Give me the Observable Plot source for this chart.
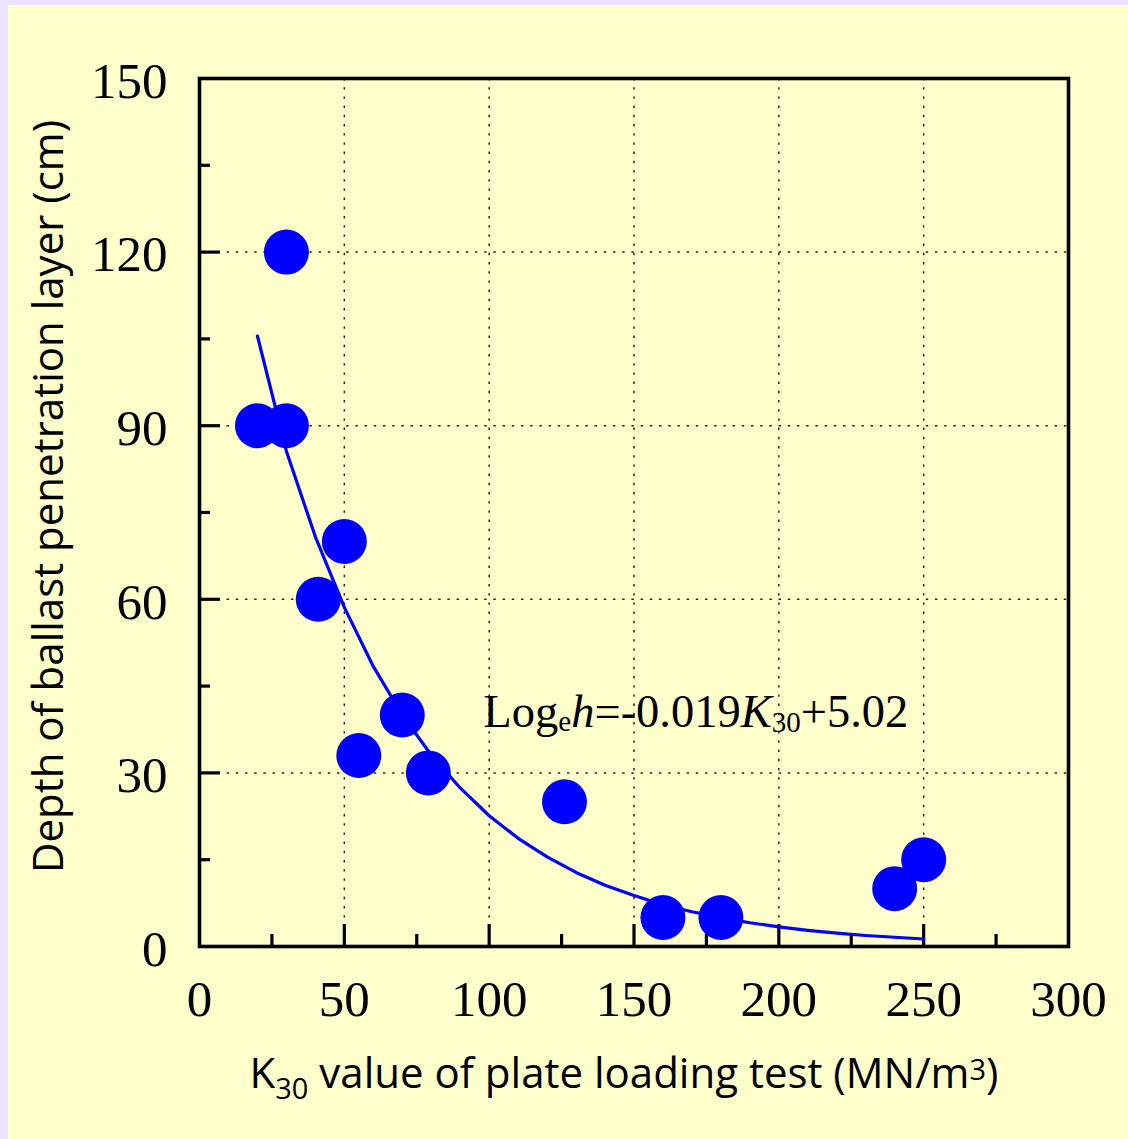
<!DOCTYPE html>
<html>
<head>
<meta charset="utf-8">
<script src="https://cdn.jsdelivr.net/npm/d3@7"></script>
<script src="https://cdn.jsdelivr.net/npm/@observablehq/plot@0.6"></script>
<style>
  html, body { margin: 0; padding: 0; }
  body { width: 1128px; height: 1139px; background: #ECE2FF; position: relative; overflow: hidden; }
  #chart svg { position: absolute; left: 8px; top: 5px; }
</style>
</head>
<body>
<div id="chart"></div>
<script>
// ---- data ----
const k30Values   = [20, 30, 30, 41, 50, 55, 70, 79, 126, 160, 180, 240, 250];
const depthValues = [90, 90, 120, 60, 70, 33, 40, 30, 25, 5, 5, 10, 15];

// fitted curve (Log_e h = -0.019 K30 + 5.02)
const fitK     = [20, 30, 40, 50, 60, 70, 80, 90, 100, 110, 120, 130, 140, 150, 160, 170, 180, 190, 200, 210, 220, 230, 240, 250];
const fitDepth = [105.5, 85.6, 70.8, 58.6, 48.4, 40.0, 33.1, 27.4, 22.6, 18.7, 15.5, 12.8, 10.6, 8.8, 7.2, 6.0, 5.0, 4.1, 3.4, 2.8, 2.3, 1.9, 1.6, 1.3];

const xTickLabels = [0, 50, 100, 150, 200, 250, 300];
const yTickLabels = [0, 30, 60, 90, 120, 150];
const xMajorInner = [50, 100, 150, 200, 250];
const xMinorInner = [25, 75, 125, 175, 225, 275];
const yMajorInner = [30, 60, 90, 120];
const yMinorInner = [15, 45, 75, 105, 135];
const xGridLines  = [50, 100, 150, 200, 250];
const yGridLines  = [30, 60, 90, 120];

const xTitle = "K30 value of plate loading test (MN/m3)";
const yTitle = "Depth of ballast penetration layer (cm)";
const equation = "Logeh=-0.019K30+5.02";

// ---- build tables ----
const points = k30Values.map((k, i) => ({k, h: depthValues[i]}));
const fit = fitK.map((k, i) => ({k, h: fitDepth[i]}));

const W = 1120, H = 1134;
const mL = 191, mR = 60, mT = 73, mB = 193;
const frameW = W - mL - mR, frameH = H - mT - mB;
const gridDash = "2.4,6.8";

const svg = Plot.plot({
  width: W, height: H,
  marginLeft: mL, marginRight: mR, marginTop: mT, marginBottom: mB,
  style: {background: "#FFFFCC", fontFamily: "'Liberation Serif', serif", fontSize: "51px", color: "black", overflow: "visible"},
  x: {domain: [0, 300], label: null},
  y: {domain: [0, 150], label: null},
  marks: [
    Plot.ruleX(xGridLines, {x: d => d, stroke: "#222", strokeWidth: 1.5, strokeDasharray: gridDash}),
    Plot.ruleY(yGridLines, {y: d => d, stroke: "#222", strokeWidth: 1.5, strokeDasharray: gridDash}),
    Plot.tickX(xMajorInner, {x: d => d, insetTop: frameH - 22, stroke: "black", strokeWidth: 3.2}),
    Plot.tickX(xMinorInner, {x: d => d, insetTop: frameH - 12, stroke: "black", strokeWidth: 3.2}),
    Plot.tickY(yMajorInner, {y: d => d, insetRight: frameW - 21, stroke: "black", strokeWidth: 3.2}),
    Plot.tickY(yMinorInner, {y: d => d, insetRight: frameW - 11, stroke: "black", strokeWidth: 3.2}),
    Plot.line(fit, {x: "k", y: "h", stroke: "#0000FF", strokeWidth: 3.2}),
    Plot.dot(points, {x: "k", y: "h", r: 22.5, fill: "#0000FF", stroke: "none"}),
    Plot.frame({stroke: "black", strokeWidth: 3.6}),
    Plot.axisX({ticks: xTickLabels, tickSize: 0, tickPadding: 33.5, tickFormat: d => String(d), label: null}),
    Plot.axisY({ticks: yTickLabels, tickSize: 0, tickPadding: 32, dy: 3, tickFormat: d => String(d), label: null}),
    Plot.text([equation], {text: d => d, x: 98, y: 40.5, textAnchor: "start", lineAnchor: "middle", fontSize: 46.5, fill: "black"}),
    Plot.text([xTitle], {text: d => d, frameAnchor: "bottom", textAnchor: "middle", dx: -10, dy: 128, lineAnchor: "middle", fontSize: 42, fontFamily: "'Open Sans', sans-serif", fill: "black"}),
    Plot.text([yTitle], {text: d => d, frameAnchor: "left", textAnchor: "middle", rotate: -90, dx: -150, dy: -16, lineAnchor: "middle", fontSize: 42, fontFamily: "'Open Sans', sans-serif", fill: "black"})
  ]
});

function richText(root, original, parts) {
  d3.select(root).selectAll("text").filter(function() { return this.textContent === original; }).each(function() {
    const t = d3.select(this);
    t.selectAll("*").remove();
    t.text(null);
    for (const p of parts) {
      const s = t.append("tspan").text(p.t);
      if (p.italic) s.attr("font-style", "italic");
      if (p.size) s.attr("font-size", p.size);
      if (p.shift) s.attr("baseline-shift", p.shift);
    }
  });
}

richText(svg, equation, [
  {t: "Log"}, {t: "e", size: 29, shift: -4}, {t: "h", italic: true}, {t: "=-0.019"},
  {t: "K", italic: true}, {t: "30", size: 29, shift: -5}, {t: "+5.02"}
]);
richText(svg, xTitle, [
  {t: "K"}, {t: "30", size: 29, shift: -11}, {t: " value of plate loading test (MN/m"}, {t: "3", size: 29, shift: 8}, {t: ")"}
]);

document.getElementById("chart").appendChild(svg);
</script>
</body>
</html>
